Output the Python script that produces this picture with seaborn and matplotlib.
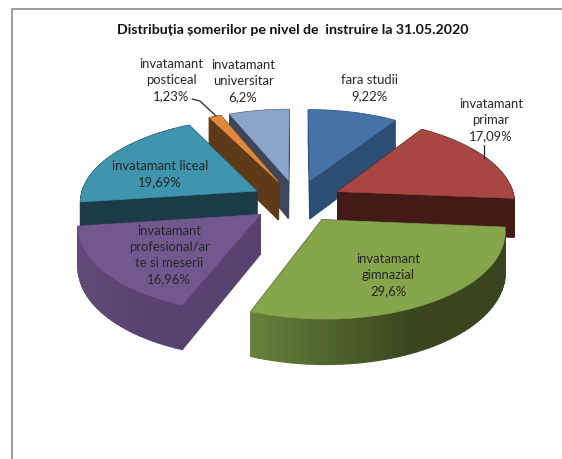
import numpy as np
import matplotlib
matplotlib.use("Agg")
import matplotlib.pyplot as plt
import matplotlib.colors as mcolors
from matplotlib.patches import Polygon
import seaborn as sns

# Data
categories = ["fara studii", "invatamant\nprimar", "invatamant\ngimnazial",
              "invatamant\nprofesional/ar\nte si meserii", "invatamant liceal",
              "invatamant\nposticeal", "invatamant\nuniversitar"]
values = [9.22, 17.09, 29.6, 16.96, 19.69, 1.23, 6.2]
value_labels = ["9,22%", "17,09%", "29,6%", "16,96%", "19,69%", "1,23%", "6,2%"]

top_colors = ["#4672a8", "#a84644", "#87a54a", "#71588f", "#4095ae", "#e0883b", "#8ea5cb"]
face_colors = ["#2c4d74", "#431a18", "#38451f", "#574270", "#1b3b47", "#5e3a18", "#3c4759"]
rim_left = ["#2c4d74", "#431a18", "#66803a", "#5f4a78", "#1b3b47", "#5e3a18", "#3c4759"]
rim_right = ["#2c4d74", "#431a18", "#38451f", "#574270", "#1b3b47", "#5e3a18", "#3c4759"]
label_xy = [(369, 88), (491, 120), (388, 275), (169, 255), (160, 174), (171, 80), (243, 81)]

explode_frac = 0.26
cx, cy = 297, 201
scale_x, scale_y = 177, 83.3
persp = 0.114
depth = 39

sns.set_theme(style="white")
plt.rcParams["font.family"] = ["Lato", "DejaVu Sans"]


def project(x, y, drop=0.0):
    w = 1 + persp * y
    return cx + scale_x * x / w, cy - scale_y * y / w + drop * depth / w


def quad(p, q):
    return [project(*p), project(*q), project(*q, drop=1), project(*p, drop=1)]


def mix(c1, c2, t):
    a, b = np.array(mcolors.to_rgb(c1)), np.array(mcolors.to_rgb(c2))
    return a + (b - a) * min(max(t, 0), 1)


fig = plt.figure(figsize=(5.62, 4.59), dpi=100)
ax = fig.add_axes([0, 0, 1, 1])

# the pie gives the angles and the exploded centres, the tilted drawing uses them
wedges, _ = ax.pie(values, startangle=90, counterclock=False,
                   explode=[explode_frac] * len(values))
shapes = [(w.theta1, w.theta2, w.center) for w in wedges]
for w in wedges:
    w.remove()

ax.set_xlim(0, 562)
ax.set_ylim(459, 0)
ax.set_aspect("auto")
ax.set_axis_off()

order = sorted(range(len(values)),
               key=lambda i: -shapes[i][2][1])
for z, i in enumerate(order):
    t1, t2, (ox, oy) = shapes[i]
    ang = np.radians(np.linspace(t1, t2, max(int((t2 - t1) / 2), 3) + 1))
    rim = np.column_stack([ox + np.cos(ang), oy + np.sin(ang)])
    apex = (ox, oy)

    # side faces, back ones first
    faces = [(quad(apex, rim[0]), face_colors[i], oy + rim[0][1]),
             (quad(apex, rim[-1]), face_colors[i], oy + rim[-1][1])]
    sx = [project(*p)[0] for p in rim]
    for p, q, x in zip(rim[:-1], rim[1:], sx):
        t = (x - min(sx)) / (0.62 * (max(sx) - min(sx)))
        faces.append((quad(p, q), mix(rim_left[i], rim_right[i], t), p[1] + q[1]))
    faces.sort(key=lambda f: -f[2])
    for pts, col, _ in faces:
        ax.add_patch(Polygon(pts, closed=True, facecolor=col, edgecolor=col,
                             lw=1.0, zorder=2 + z))

    top = [project(*apex)] + [project(*p) for p in rim]
    ax.add_patch(Polygon(top, closed=True, facecolor=top_colors[i],
                         edgecolor=top_colors[i], lw=0.4, zorder=2 + z))

for i, (x, y) in enumerate(label_xy):
    ax.text(x, y, categories[i] + "\n" + value_labels[i], ha="center", va="center",
            fontsize=9.4, color="#262626", linespacing=1.38, zorder=20)

# leader lines
ax.plot([192, 200, 216], [99, 101, 116], color="#222222", lw=0.9, zorder=20)
ax.plot([484, 484], [145, 158], color="#222222", lw=0.9, zorder=20)

ax.text(293, 30, "Distribuția șomerilor pe nivel de  instruire la 31.05.2020", ha="center",
        va="center", fontsize=10.2, fontweight="bold", color="#111111", zorder=20)

# chart frame
ax.plot([11.5, 11.5, 562], [459, 9, 9], color="#8c8c8c", lw=1.2, zorder=1)

fig.savefig("out.png", dpi=100)
